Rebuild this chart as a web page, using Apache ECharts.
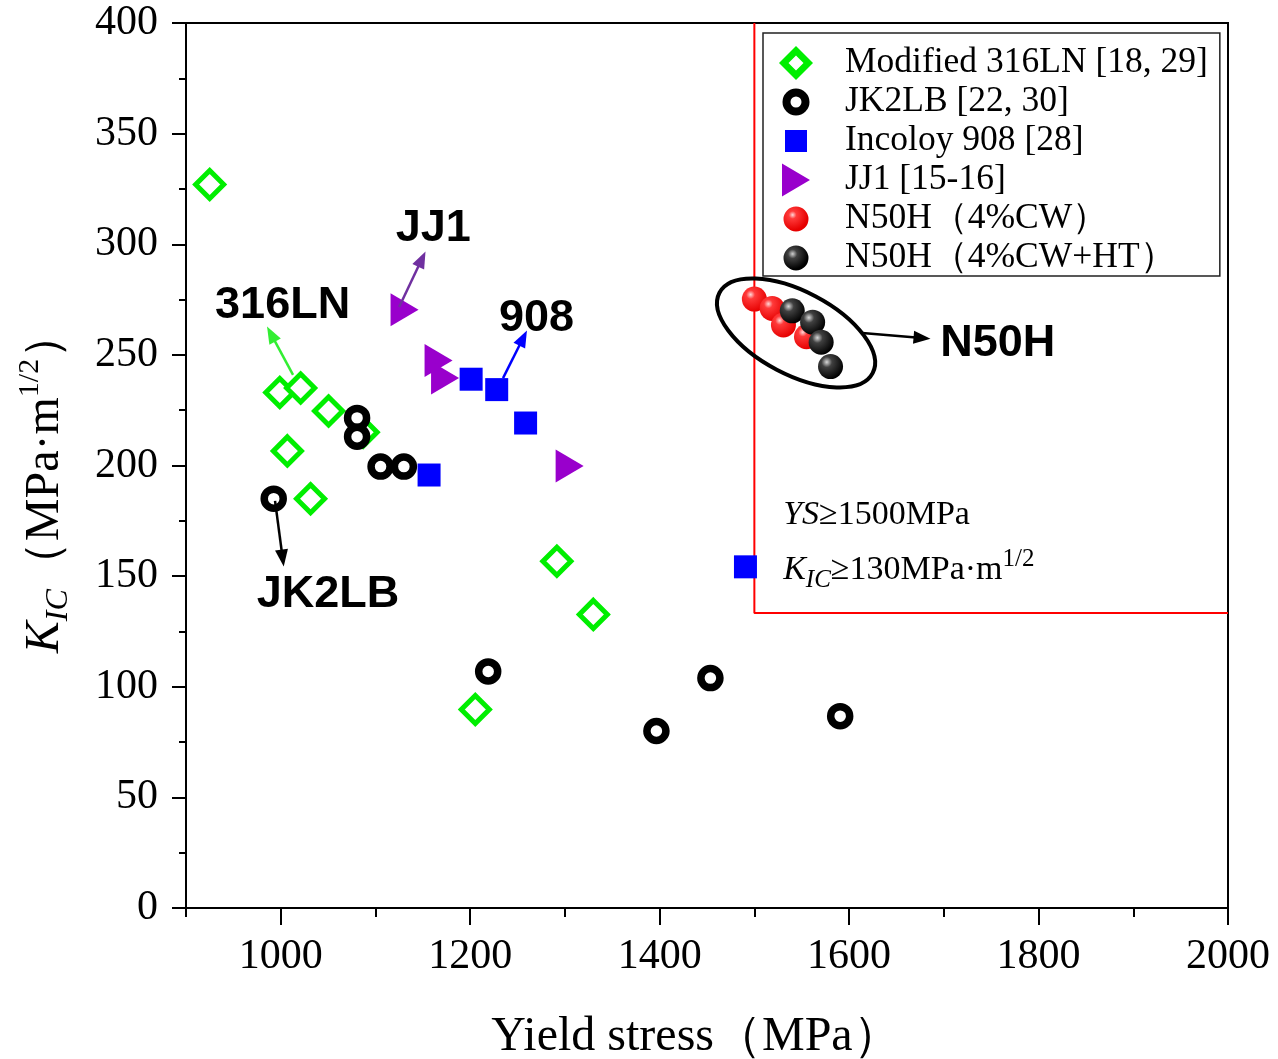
<!DOCTYPE html>
<html><head><meta charset="utf-8">
<script src="https://cdn.jsdelivr.net/npm/echarts@6/dist/echarts.min.js"></script>
<style>html,body{margin:0;padding:0;background:#fff}#c{width:1278px;height:1059px}</style>
</head><body><div id="c"></div><script>
// ---- data ----
const seriesNames = ['Modified 316LN [18, 29]', 'JK2LB [22, 30]', 'Incoloy 908 [28]', 'JJ1 [15-16]', 'N50H（4%CW）', 'N50H（4%CW+HT）'];
const mod316LN = [[925,327],[999,233],[1021,235],[1050.5,224.6],[1007,206.6],[1031.5,185],[1087,215],[1291.5,156.7],[1330,132.7],[1205.4,89.7]];
const jk2lb = [[992.6,185],[1080.6,221.5],[1080.6,213],[1105.4,199.5],[1130,199.5],[1219,106.9],[1396.6,80],[1453.6,103.9],[1590.6,86.7]];
const incoloy908 = [[1156.6,195.7],[1201,239],[1228,234.3],[1258.5,219.2],[1490.6,154.2]];
const jj1 = [[1130.7,270.4],[1166.6,247.5],[1173.5,239.5],[1305,199.8]];
const n50hCW = [[1500,275.2],[1518.8,271],[1530.7,263.5],[1555,258.2]];
const n50hCWHT = [[1540,269.9],[1561.5,264.8],[1570.5,255.7],[1580.4,244.7]];
const targetBox = [[1500,400],[1500,133.3],[2000,133.3]];
const xLabelValues = [1000,1200,1400,1600,1800,2000];
const xMinorTickValues = [900,1100,1300,1500,1700,1900];
const labelTexts = ['316LN','JJ1','908','JK2LB','N50H'];
const labelPos = [[1002,272.5],[1161,307],[1270,266.5],[1050,141.5],[1757,255]];
const arrowStart = [[1013,241],[1125,271.6],[1234.7,239.5],[994,184],[1614,259.9]];
const arrowEnd = [[989.8,259.4],[1149,293.3],[1255.9,257.6],[1002,158.2],[1677,257.6]];
const ellipseCenter = [1544,259.9];
const boxText1Pos = [1530.4,177.6];
const boxText2Pos = [1530.4,152.8];

// ---- styles ----
const serif = 'Liberation Serif';
const arrowColors = ['#33ee33','#7030a0','#0000ff','#000000','#000000'];
const redGrad = new echarts.graphic.RadialGradient(0.35,0.32,0.7,[{offset:0,color:'#ffd8d8'},{offset:0.25,color:'#ff3a3a'},{offset:1,color:'#e60000'}]);
const blackGrad = new echarts.graphic.RadialGradient(0.35,0.32,0.7,[{offset:0,color:'#d8d8d8'},{offset:0.3,color:'#404040'},{offset:1,color:'#000000'}]);
const legRedGrad = new echarts.graphic.RadialGradient(0.4,0.38,0.45,[{offset:0,color:'#ffd8d8'},{offset:0.25,color:'#ff3a3a'},{offset:1,color:'#e60000'}]);
const legBlackGrad = new echarts.graphic.RadialGradient(0.4,0.38,0.45,[{offset:0,color:'#d0d0d0'},{offset:0.3,color:'#404040'},{offset:1,color:'#000000'}]);
// legend icon shapes in a 34x34 frame (tiny corner dots fix the frame size)
const frame = 'M0,0h0.05v0.05h-0.05Z M34,34h-0.05v-0.05h0.05Z ';
const iconDiamond = 'path://' + frame + 'M17,0L34,17L17,34L0,17Z M17,9.5L9.5,17L17,24.5L24.5,17Z';
const iconRing = 'path://' + frame + 'M3.5,17A13.5,13.5 0 1,0 30.5,17A13.5,13.5 0 1,0 3.5,17Z M11.5,17A5.5,5.5 0 1,1 22.5,17A5.5,5.5 0 1,1 11.5,17Z';
const iconSquare = 'path://' + frame + 'M6,6h22v22h-22Z';
const iconTri = 'path://' + frame + 'M3,0.5L31,17L3,33.5Z';
const iconBall = 'path://' + frame + 'M4.5,17A12.5,12.5 0 1,0 29.5,17A12.5,12.5 0 1,0 4.5,17Z';

const chart = echarts.init(document.getElementById('c'), null, {renderer:'canvas'});
const markLineData = arrowStart.map((s,i)=>[
  {coord:s, lineStyle:{color:arrowColors[i], width:2.5, type:'solid'}, symbol:'none'},
  {coord:arrowEnd[i], symbol:'triangle', symbolSize:[13,17], itemStyle:{color:arrowColors[i]}}
]);

const option = {
  animation:false,
  backgroundColor:'#fff',
  grid:{left:186, top:23, right:50, bottom:151, show:true, borderColor:'#000', borderWidth:2, backgroundColor:'transparent'},
  xAxis:[{
    type:'value', min:900, max:2000, interval:100,
    axisLine:{show:true, onZero:false, lineStyle:{color:'#000', width:2}},
    axisTick:{show:true, customValues:xLabelValues, length:17, lineStyle:{color:'#000', width:2}},
    axisLabel:{customValues:xLabelValues, formatter:v=>String(v), color:'#000', fontFamily:serif, fontSize:42, margin:28},
    splitLine:{show:false}
  },{
    type:'value', min:900, max:2000, position:'bottom', interval:100,
    axisLine:{show:false, onZero:false},
    axisTick:{show:true, customValues:xMinorTickValues, length:9, lineStyle:{color:'#000', width:2}},
    axisLabel:{show:false}, splitLine:{show:false}
  }],
  yAxis:{
    type:'value', min:0, max:400, interval:50,
    axisLine:{show:true, onZero:false, lineStyle:{color:'#000', width:2}},
    axisTick:{show:true, length:14, lineStyle:{color:'#000', width:2}},
    minorTick:{show:true, splitNumber:2, length:7, lineStyle:{color:'#000', width:2}},
    axisLabel:{formatter:v=>String(v), color:'#000', fontFamily:serif, fontSize:42, margin:28},
    splitLine:{show:false}
  },
  legend:{
    orient:'vertical', left:763, top:33, z:1,
    padding:[12,12,0,16], itemGap:3, itemWidth:34, itemHeight:34,
    borderColor:'#222', borderWidth:1.5, backgroundColor:'#fff',
    textStyle:{fontFamily:serif, fontSize:35.5, lineHeight:32, color:'#000', padding:[0,0,0,27]},
    data:[
      {name:seriesNames[0], icon:iconDiamond, itemStyle:{color:'#00ee00', borderWidth:0}},
      {name:seriesNames[1], icon:iconRing, itemStyle:{color:'#000000', borderWidth:0}},
      {name:seriesNames[2], icon:iconSquare},
      {name:seriesNames[3], icon:iconTri},
      {name:seriesNames[4], icon:iconBall, itemStyle:{color:legRedGrad}},
      {name:seriesNames[5], icon:iconBall, itemStyle:{color:legBlackGrad}}
    ],
    selectedMode:false
  },
  series:[
    {name:'box', type:'line', data:targetBox, symbol:'none', lineStyle:{color:'#ff0000', width:2}, z:1, silent:true,
     markLine:{silent:true, symbol:['none','triangle'], label:{show:false}, lineStyle:{type:'solid'}, data:markLineData, animation:false}},
    {name:seriesNames[0], type:'scatter', data:mod316LN, symbol:'diamond', symbolSize:28, z:3,
     itemStyle:{color:'#ffffff', borderColor:'#00ee00', borderWidth:5, opacity:1}},
    {name:seriesNames[1], type:'scatter', data:jk2lb, symbol:'circle', symbolSize:19, z:3,
     itemStyle:{color:'#ffffff', borderColor:'#000000', borderWidth:7.5, opacity:1}},
    {name:seriesNames[2], type:'scatter', data:incoloy908, symbol:'rect', symbolSize:23, z:3,
     itemStyle:{color:'#0000ff', opacity:1}},
    {name:seriesNames[3], type:'scatter', data:jj1, symbol:'triangle', symbolSize:[33,28], symbolRotate:-90, z:3,
     itemStyle:{color:'#9900cc', opacity:1}},
    {name:seriesNames[4], type:'scatter', data:n50hCW, symbol:'circle', symbolSize:25, z:3,
     itemStyle:{color:redGrad, opacity:1}},
    {name:seriesNames[5], type:'scatter', data:n50hCWHT, symbol:'circle', symbolSize:25, z:3,
     itemStyle:{color:blackGrad, opacity:1}}
  ]
};
chart.setOption(option);

function P(pt){ return chart.convertToPixel({gridIndex:0}, pt); }
const graphics = [];
labelTexts.forEach((t,i)=>{
  const p = P(labelPos[i]);
  graphics.push({type:'text', x:p[0], y:p[1], z:100, style:{text:t, fill:'#000', font:'bold 45px "Liberation Sans", Arial, sans-serif', textAlign:'center', textVerticalAlign:'middle'}});
});
const ec = P(ellipseCenter);
graphics.push({type:'ellipse', x:ec[0], y:ec[1], rotation:-27.7*Math.PI/180, z:99,
  shape:{cx:0, cy:0, rx:86.5, ry:41.5}, style:{fill:'none', stroke:'#000', lineWidth:4}});
const b1 = P(boxText1Pos), b2 = P(boxText2Pos);
graphics.push({type:'text', x:b1[0], y:b1[1], z:100, style:{
  text:'{i|YS}{n|≥1500MPa}', textAlign:'left', textVerticalAlign:'middle',
  rich:{i:{fontFamily:serif, fontStyle:'italic', fontSize:34, fill:'#000', lineHeight:40}, n:{fontFamily:serif, fontSize:34, fill:'#000', lineHeight:40}}}});
graphics.push({type:'text', x:b2[0], y:b2[1], z:100, style:{
  text:'{i|K}{sub|IC}{n|≥130MPa·m}{sup|1/2}', textAlign:'left', textVerticalAlign:'middle',
  rich:{i:{fontFamily:serif, fontStyle:'italic', fontSize:34, fill:'#000', lineHeight:46},
        sub:{fontFamily:serif, fontStyle:'italic', fontSize:25, fill:'#000', lineHeight:24, verticalAlign:'bottom'},
        n:{fontFamily:serif, fontSize:34, fill:'#000', lineHeight:46},
        sup:{fontFamily:serif, fontSize:25, fill:'#000', lineHeight:24, verticalAlign:'top'}}}});
// axis titles
graphics.push({type:'text', x:696, y:1037, z:100, style:{text:'Yield stress（MPa）', fontFamily:serif, fontSize:48, fill:'#000', textAlign:'center', textVerticalAlign:'middle'}});
graphics.push({type:'text', x:45, y:482, rotation:Math.PI/2, z:100, style:{
  text:'{i|K}{sub|IC}{n|（MPa·m}{sup|1/2}{n|）}', textAlign:'center', textVerticalAlign:'middle',
  rich:{i:{fontFamily:serif, fontStyle:'italic', fontSize:48, fill:'#000', lineHeight:60},
        sub:{fontFamily:serif, fontStyle:'italic', fontSize:32, fill:'#000', lineHeight:32, verticalAlign:'bottom'},
        n:{fontFamily:serif, fontSize:48, fill:'#000', lineHeight:60},
        sup:{fontFamily:serif, fontSize:30, fill:'#000', lineHeight:30, verticalAlign:'top'}}}});
chart.setOption({graphic:graphics});
</script></body></html>
